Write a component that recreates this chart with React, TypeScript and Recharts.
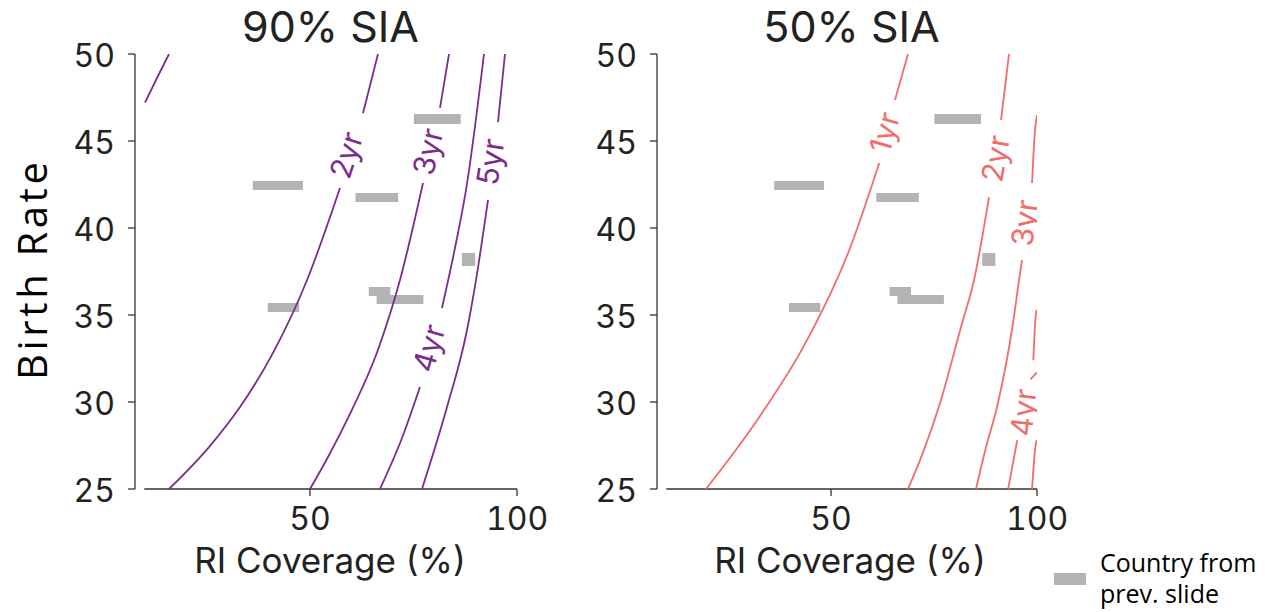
import React from 'react';
import {
  ComposedChart,
  Line,
  Scatter,
  XAxis,
  YAxis,
  ReferenceArea,
  ReferenceLine,
} from 'recharts';

type Pt = { x: number; y: number | null };
type ContourLabel = { text: string; x: number; y: number; angle: number };
type Box = { x1: number; x2: number; y1: number; y2: number };

const X_DOMAIN: [number, number] = [7.75, 100];
const Y_DOMAIN: [number, number] = [25, 50];
const X_TICKS = [50, 100];
const Y_TICKS = [25, 30, 35, 40, 45, 50];

// Time-to-outbreak contours, 90% SIA coverage (x: RI coverage %, y: birth rate).
// A null y leaves the gap where the inline label sits.
const sia90OneYr: Pt[] = [
  { x: 10.16, y: 47.2 },
  { x: 13.06, y: 48.62 },
  { x: 15.96, y: 50 },
];
const sia90TwoYr: Pt[] = [
  { x: 15.96, y: 25 },
  { x: 25.62, y: 27.41 },
  { x: 33.1, y: 29.71 },
  { x: 41.08, y: 32.82 },
  { x: 49.3, y: 37.01 },
  { x: 57.25, y: 42.3 },
  { x: 60.0, y: null },
  { x: 62.81, y: 46.6 },
  { x: 66.43, y: 50 },
];
const sia90ThreeYr: Pt[] = [
  { x: 50.01, y: 25 },
  { x: 54.36, y: 26.84 },
  { x: 58.95, y: 28.97 },
  { x: 66.67, y: 33.16 },
  { x: 71.74, y: 37.01 },
  { x: 77.3, y: 42.59 },
  { x: 79.0, y: null },
  { x: 81.4, y: 46.9 },
  { x: 83.58, y: 50 },
];
const sia90FourYr: Pt[] = [
  { x: 66.91, y: 25 },
  { x: 72.23, y: 27.93 },
  { x: 76.57, y: 30.86 },
  { x: 79.0, y: null },
  { x: 81.88, y: 35.4 },
  { x: 85.75, y: 39.71 },
  { x: 87.68, y: 42.18 },
  { x: 92.03, y: 50 },
];
const sia90FiveYr: Pt[] = [
  { x: 77.06, y: 25 },
  { x: 83.1, y: 29.71 },
  { x: 87.93, y: 34.14 },
  { x: 90.1, y: 37.01 },
  { x: 93.0, y: 41.61 },
  { x: 94.2, y: null },
  { x: 95.41, y: 46.09 },
  { x: 97.1, y: 50 },
];

// Same contours for 50% SIA coverage.
const sia50OneYr: Pt[] = [
  { x: 19.65, y: 25 },
  { x: 27.42, y: 27.41 },
  { x: 34.21, y: 29.71 },
  { x: 42.47, y: 32.82 },
  { x: 46.11, y: 34.43 },
  { x: 51.05, y: 36.84 },
  { x: 53.95, y: 38.45 },
  { x: 61.7, y: 43.74 },
  { x: 63.6, y: null },
  { x: 65.53, y: 47.36 },
  { x: 68.69, y: 50 },
];
const sia50TwoYr: Pt[] = [
  { x: 68.69, y: 25 },
  { x: 72.81, y: 27.41 },
  { x: 76.46, y: 29.94 },
  { x: 81.55, y: 34.31 },
  { x: 84.71, y: 37.01 },
  { x: 88.35, y: 41.78 },
  { x: 89.8, y: null },
  { x: 91.27, y: 46.21 },
  { x: 93.21, y: 50 },
];
const sia50ThreeYr: Pt[] = [
  { x: 85.2, y: 25 },
  { x: 87.63, y: 27.41 },
  { x: 90.3, y: 29.71 },
  { x: 94.18, y: 34.54 },
  { x: 95.64, y: 37.01 },
  { x: 96.36, y: 38.16 },
  { x: 97.5, y: null },
  { x: 98.79, y: 42.59 },
  { x: 99.52, y: 45.63 },
  { x: 100, y: 46.49 },
];
const sia50FourYr: Pt[] = [
  { x: 93.0, y: 25 },
  { x: 95.2, y: 27.8 },
  { x: 96.6, y: null },
  { x: 98.4, y: 31.3 },
  { x: 100, y: 31.7 },
];
const sia50FiveYr: Pt[] = [
  { x: 98.8, y: 25 },
  { x: 99.6, y: 27.4 },
  { x: 99.9, y: 27.8 },
  { x: 99.95, y: null },
  { x: 99.1, y: 32.4 },
  { x: 99.6, y: 34.7 },
  { x: 99.9, y: 35.3 },
];

const sia90Labels: ContourLabel[] = [
  { text: '2yr', x: 58.7, y: 44.2, angle: -72 },
  { text: '3yr', x: 78.4, y: 44.4, angle: -77 },
  { text: '4yr', x: 78.6, y: 33.1, angle: -74 },
  { text: '5yr', x: 93.5, y: 43.8, angle: -81 },
];
const sia50Labels: ContourLabel[] = [
  { text: '1yr', x: 62.9, y: 45.5, angle: -74 },
  { text: '2yr', x: 89.85, y: 44.0, angle: -80 },
  { text: '3yr', x: 96.9, y: 40.3, angle: -83 },
  { text: '4yr', x: 96.6, y: 29.4, angle: -84 },
];

// Countries from the previous slide: RI coverage range and birth-rate band.
const countryBoxes: Box[] = [
  { x1: 36.2, x2: 48.3, y1: 42.18, y2: 42.7 },
  { x1: 61.0, x2: 71.3, y1: 41.49, y2: 42.01 },
  { x1: 75.1, x2: 86.4, y1: 45.98, y2: 46.55 },
  { x1: 86.7, x2: 89.9, y1: 37.82, y2: 38.56 },
  { x1: 39.8, x2: 47.4, y1: 35.17, y2: 35.69 },
  { x1: 64.2, x2: 69.4, y1: 36.09, y2: 36.61 },
  { x1: 66.1, x2: 77.4, y1: 35.63, y2: 36.15 },
];

const PURPLE = '#7b2d8c';
const SALMON = '#f46b6b';
const GREY = '#b3b3b3';
const AXIS = '#333333';
const INK = '#222222';
const FONT = 'Inter, "Open Sans", sans-serif';
const TEXT_FONT = '"Open Sans", sans-serif';

const tickStyle = {
  fontSize: 32,
  fill: INK,
  fontFamily: FONT,
  style: { fontVariantNumeric: 'tabular-nums' },
};

type PanelProps = {
  left: number;
  width: number;
  marginLeft: number;
  marginRight: number;
  contours: Pt[][];
  labels: ContourLabel[];
  color: string;
};

function Panel({ left, width, marginLeft, marginRight, contours, labels, color }: PanelProps) {
  const renderLabel = (p: any) => {
    const { cx, cy, payload } = p;
    if (cx == null || cy == null) return <g />;
    return (
      <text
        x={cx}
        y={cy}
        transform={`rotate(${payload.angle} ${cx} ${cy})`}
        textAnchor="middle"
        dominantBaseline="central"
        fontSize={30}
        fontFamily={FONT}
        fill={color}
      >
        {payload.text}
      </text>
    );
  };

  return (
    <div style={{ position: 'absolute', left, top: 0 }}>
      <ComposedChart
        width={width}
        height={612}
        margin={{ top: 54, right: marginRight, bottom: 43, left: marginLeft }}
      >
        <XAxis
          type="number"
          dataKey="x"
          domain={X_DOMAIN}
          ticks={X_TICKS}
          interval={0}
          allowDataOverflow
          axisLine={false}
          tickLine={{ stroke: AXIS, strokeWidth: 1.3 }}
          tickSize={7}
          tickMargin={11}
          tick={tickStyle}
          height={80}
        />
        <YAxis
          type="number"
          dataKey="y"
          domain={Y_DOMAIN}
          ticks={Y_TICKS}
          interval={0}
          allowDataOverflow
          axisLine={{ stroke: AXIS, strokeWidth: 1.3 }}
          tickLine={{ stroke: AXIS, strokeWidth: 1.3 }}
          tickSize={7}
          tickMargin={13}
          tick={{ ...tickStyle, dy: 2 }}
          width={80}
        />
        {countryBoxes.map((b, i) => (
          <ReferenceArea
            key={`box-${i}`}
            x1={b.x1}
            x2={b.x2}
            y1={b.y1}
            y2={b.y2}
            fill={GREY}
            fillOpacity={1}
            stroke="none"
          />
        ))}
        <ReferenceLine
          segment={[
            { x: 10, y: 25 },
            { x: 100, y: 25 },
          ]}
          stroke={AXIS}
          strokeWidth={1.3}
        />
        {contours.map((c, i) => (
          <Line
            key={`contour-${i}`}
            data={c}
            dataKey="y"
            type="monotone"
            stroke={color}
            strokeWidth={1.8}
            dot={false}
            activeDot={false}
            connectNulls={false}
            isAnimationActive={false}
          />
        ))}
        <Scatter data={labels} dataKey="y" shape={renderLabel} isAnimationActive={false} />
      </ComposedChart>
    </div>
  );
}

export default function App() {
  return (
    <div
      style={{
        position: 'absolute',
        left: 0,
        top: 0,
        width: 1265,
        height: 612,
        background: '#ffffff',
        overflow: 'hidden',
      }}
    >
      <Panel
        left={0}
        width={565}
        marginLeft={55}
        marginRight={48}
        contours={[sia90OneYr, sia90TwoYr, sia90ThreeYr, sia90FourYr, sia90FiveYr]}
        labels={sia90Labels}
        color={PURPLE}
      />
      <Panel
        left={540}
        width={540}
        marginLeft={37}
        marginRight={43}
        contours={[sia50OneYr, sia50TwoYr, sia50ThreeYr, sia50FourYr, sia50FiveYr]}
        labels={sia50Labels}
        color={SALMON}
      />
      <svg
        width={1265}
        height={612}
        style={{ position: 'absolute', left: 0, top: 0, pointerEvents: 'none' }}
      >
        <text x={330.5} y={42} textAnchor="middle" fontSize={43} fontFamily={FONT} fill={INK}>
          90% SIA
        </text>
        <text x={851.5} y={42} textAnchor="middle" fontSize={43} fontFamily={FONT} fill={INK}>
          50% SIA
        </text>
        <text x={330} y={573} textAnchor="middle" fontSize={35} fontFamily={FONT} fill={INK}>
          RI Coverage (%)
        </text>
        <text x={850} y={573} textAnchor="middle" fontSize={35} fontFamily={FONT} fill={INK}>
          RI Coverage (%)
        </text>
        <text
          x={47}
          y={271}
          transform="rotate(-90 47 271)"
          textAnchor="middle"
          fontSize={40}
          fontFamily={TEXT_FONT}
          fill="#000"
          textLength={218}
          lengthAdjust="spacing"
        >
          Birth Rate
        </text>
        <rect x={1054} y={573} width={32} height={12} fill={GREY} />
        <text x={1100} y={572} fontSize={25} fontFamily={TEXT_FONT} fill="#000">
          Country from
        </text>
        <text x={1100} y={603} fontSize={25} fontFamily={TEXT_FONT} fill="#000">
          prev. slide
        </text>
      </svg>
    </div>
  );
}
